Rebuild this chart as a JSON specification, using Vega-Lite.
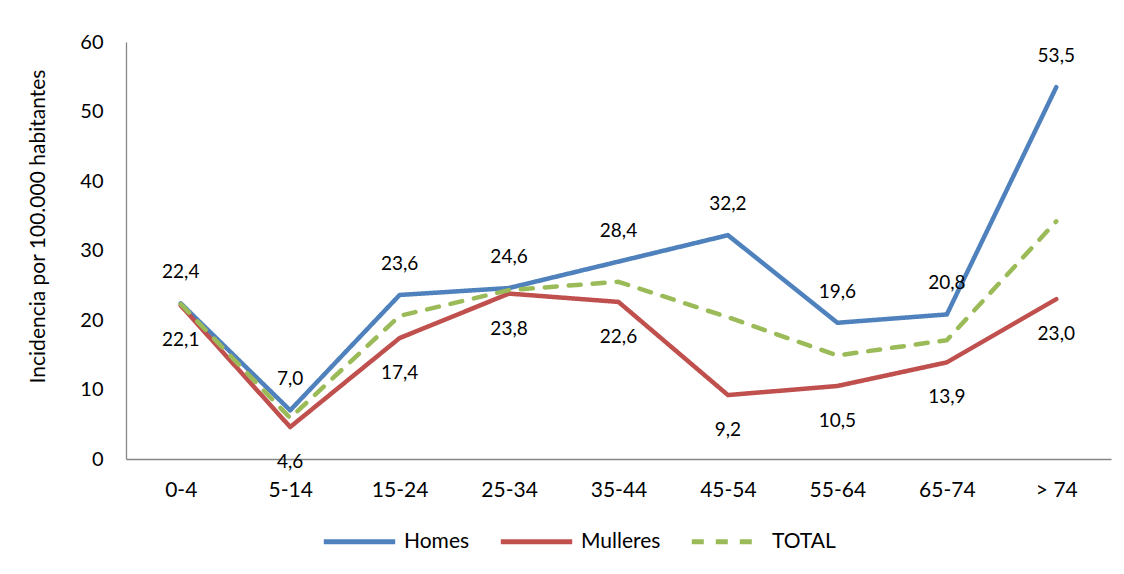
{
  "$schema": "https://vega.github.io/schema/vega-lite/v6.json",
  "width": 985,
  "height": 417,
  "autosize": {"type": "none"},
  "padding": {"left": 126, "top": 42, "right": 13, "bottom": 115},
  "background": "white",
  "config": {
    "font": "Lato",
    "view": {"stroke": null},
    "locale": {"number": {"decimal": ",", "thousands": ".", "grouping": [3], "currency": ["", " €"]}},
    "axis": {"labelFont": "Lato", "titleFont": "Lato", "labelColor": "black", "titleColor": "black", "grid": false, "ticks": false, "domainColor": "#868686", "domainWidth": 1.3},
    "legend": {"title": null, "orient": "none", "legendX": 195, "legendY": 461, "direction": "horizontal", "symbolType": "stroke", "symbolSize": 5100, "symbolStrokeWidth": 5, "labelFontSize": 21, "labelColor": "black", "labelFont": "Lato", "columnPadding": 20, "labelOffset": 6}
  },
  "data": {"values": [
    {"grupo": "0-4", "serie": "Homes", "valor": 22.4},
    {"grupo": "5-14", "serie": "Homes", "valor": 7.0},
    {"grupo": "15-24", "serie": "Homes", "valor": 23.6},
    {"grupo": "25-34", "serie": "Homes", "valor": 24.6},
    {"grupo": "35-44", "serie": "Homes", "valor": 28.4},
    {"grupo": "45-54", "serie": "Homes", "valor": 32.2},
    {"grupo": "55-64", "serie": "Homes", "valor": 19.6},
    {"grupo": "65-74", "serie": "Homes", "valor": 20.8},
    {"grupo": "> 74", "serie": "Homes", "valor": 53.5},
    {"grupo": "0-4", "serie": "Mulleres", "valor": 22.1},
    {"grupo": "5-14", "serie": "Mulleres", "valor": 4.6},
    {"grupo": "15-24", "serie": "Mulleres", "valor": 17.4},
    {"grupo": "25-34", "serie": "Mulleres", "valor": 23.8},
    {"grupo": "35-44", "serie": "Mulleres", "valor": 22.6},
    {"grupo": "45-54", "serie": "Mulleres", "valor": 9.2},
    {"grupo": "55-64", "serie": "Mulleres", "valor": 10.5},
    {"grupo": "65-74", "serie": "Mulleres", "valor": 13.9},
    {"grupo": "> 74", "serie": "Mulleres", "valor": 23.0},
    {"grupo": "0-4", "serie": "TOTAL", "valor": 22.3},
    {"grupo": "5-14", "serie": "TOTAL", "valor": 5.9},
    {"grupo": "15-24", "serie": "TOTAL", "valor": 20.6},
    {"grupo": "25-34", "serie": "TOTAL", "valor": 24.3},
    {"grupo": "35-44", "serie": "TOTAL", "valor": 25.5},
    {"grupo": "45-54", "serie": "TOTAL", "valor": 20.4},
    {"grupo": "55-64", "serie": "TOTAL", "valor": 14.9},
    {"grupo": "65-74", "serie": "TOTAL", "valor": 17.1},
    {"grupo": "> 74", "serie": "TOTAL", "valor": 34.2}
  ]},
  "encoding": {
    "x": {"field": "grupo", "type": "nominal", "sort": null, "scale": {"type": "point", "padding": 0.5},
      "axis": {"title": null, "labelAngle": 0, "labelFontSize": 21, "labelPadding": 20}},
    "y": {"field": "valor", "type": "quantitative", "scale": {"domain": [0, 60], "nice": false},
      "axis": {"title": "Incidencia por 100.000 habitantes", "values": [0, 10, 20, 30, 40, 50, 60], "labelFontSize": 20, "labelPadding": 23, "titleFontSize": 21, "titleFontWeight": "normal", "titlePadding": 31, "titleY": 184}}
  },
  "layer": [
    {
      "mark": {"type": "line", "strokeWidth": 4.5, "strokeJoin": "round", "strokeCap": "round"},
      "encoding": {
        "color": {"field": "serie", "type": "nominal", "scale": {"domain": ["Homes", "Mulleres", "TOTAL"], "range": ["#4F81BD", "#C0504D", "#9BBB59"]}},
        "strokeDash": {"field": "serie", "type": "nominal", "scale": {"domain": ["Homes", "Mulleres", "TOTAL"], "range": [[1, 0], [1, 0], [12, 12]]}}
      }
    },
    {
      "transform": [{"filter": "datum.serie === 'Homes'"}],
      "mark": {"type": "text", "dy": -31, "fontSize": 19, "color": "black", "font": "Lato"},
      "encoding": {"text": {"field": "valor", "type": "quantitative", "format": ".1f"}}
    },
    {
      "transform": [{"filter": "datum.serie === 'Mulleres'"}],
      "mark": {"type": "text", "dy": 35, "fontSize": 19, "color": "black", "font": "Lato"},
      "encoding": {"text": {"field": "valor", "type": "quantitative", "format": ".1f"}}
    }
  ]
}
